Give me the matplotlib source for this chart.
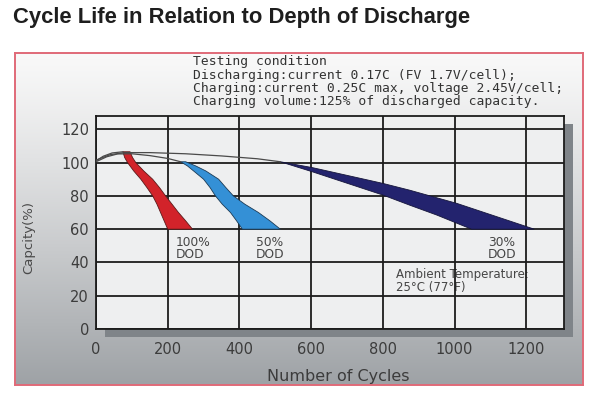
import matplotlib
matplotlib.use("Agg")
import matplotlib.pyplot as plt
import numpy as np
from matplotlib.patches import Rectangle

# ---------------- data ----------------
title = "Cycle Life in Relation to Depth of Discharge"
test_lines = [
    "Testing condition",
    "Discharging:current 0.17C (FV 1.7V/cell);",
    "Charging:current 0.25C max, voltage 2.45V/cell;",
    "Charging volume:125% of discharged capacity.",
]
xticks = [0, 200, 400, 600, 800, 1000, 1200]
yticks = [0, 20, 40, 60, 80, 100, 120]
xlabel = "Number of Cycles"
ylabel = "Capcity(%)"

# 100% DOD band (red): capacity levels with left / right edge cycles
red_cap = [106.5, 103, 100, 95, 90, 85, 80, 75, 70, 65, 60]
red_left = [75, 80, 88, 105, 125, 142, 158, 170, 180, 190, 200]
red_right = [95, 102, 111, 133, 158, 177, 194, 212, 230, 250, 269]

# 50% DOD band (blue)
blue_cap = [100.5, 98, 95, 90, 85, 80, 75, 70, 65, 60]
blue_left = [236, 255, 272, 300, 318, 333, 352, 375, 392, 408]
blue_right = [250, 278, 306, 342, 362, 383, 415, 453, 485, 514]

# 30% DOD band (navy): upper and lower edges
navy_up_x = [514, 603, 800, 875, 1006, 1222]
navy_up_y = [100.5, 97, 87.5, 83.4, 75.5, 60]
navy_lo_x = [514, 603, 800, 875, 950, 1047]
navy_lo_y = [100.5, 94.5, 80.5, 74.4, 68.5, 60]

# thin early-life lines
head_red_x = [0, 20, 45, 75]
head_red_y = [101, 103.8, 105.8, 106.5]
head_blue_x = [0, 30, 60, 100, 150, 200, 236]
head_blue_y = [100.5, 103.5, 105.2, 105.3, 104.2, 102.5, 100.5]
head_navy_x = [0, 40, 80, 150, 250, 350, 450, 514]
head_navy_y = [101.5, 104.8, 106, 106, 105.3, 104, 102.3, 100.5]

labels = [("100%\nDOD", 222, 48.5), ("50%\nDOD", 445, 48.5), ("30%\nDOD", 1093, 48.5)]
ambient = ("Ambient Temperature:\n25°C (77°F)", 836, 28.8)

# ---------------- layout ----------------
W, H = 603, 408
fig = plt.figure(figsize=(W / 100, H / 100), dpi=100)
fig.patch.set_facecolor("white")

def fx(px):
    return px / W

def fy(py):
    return 1 - py / H

# background panel with gradient and red border
bx0, by0, bx1, by1 = 15, 53, 583, 385
bg = fig.add_axes([fx(bx0), fy(by1), fx(bx1 - bx0), (by1 - by0) / H])
t = np.linspace(0, 1, 256)[:, None]
top_c = np.array([0.975, 0.975, 0.975])
bot_c = np.array([0.62, 0.635, 0.65])
grad = top_c + (bot_c - top_c) * (t ** 1.2)
grad = grad[:, None, :]
bg.imshow(grad, aspect="auto", extent=[0, 1, 0, 1], origin="upper")
bg.set_xticks([])
bg.set_yticks([])
for s in bg.spines.values():
    s.set_color("#e06a78")
    s.set_linewidth(1.4)

# plot area
ax0, ay0, ax1, ay1 = 96, 116, 564, 329
shadow = Rectangle((fx(ax0 + 9), fy(ay1 + 8)), fx(ax1 - ax0), (ay1 - ay0) / H,
                   transform=fig.transFigure, facecolor="#7f8489", edgecolor="none", zorder=1)
fig.patches.append(shadow)

ax = fig.add_axes([fx(ax0), fy(ay1), fx(ax1 - ax0), (ay1 - ay0) / H], zorder=2)
ax.set_facecolor("#eeeff0")
ax.set_xlim(0, 1305)
ax.set_ylim(0, 128)
ax.set_xticks(xticks)
ax.set_yticks(yticks)
ax.set_xticklabels([str(v) for v in xticks])
ax.set_yticklabels([str(v) for v in yticks])
ax.tick_params(axis="both", length=0, labelsize=10.5, colors="#3c3c3c")
ax.tick_params(axis="x", pad=9)
ax.tick_params(axis="y", pad=5)
ax.grid(True, color="#1c1c1c", linewidth=1.3, zorder=3)
ax.set_axisbelow(False)
for s in ax.spines.values():
    s.set_color("#1c1c1c")
    s.set_linewidth(1.3)

# bands
ax.fill(red_left + red_right[::-1], red_cap + red_cap[::-1],
        facecolor="#d2232a", edgecolor="#5a1a1a", linewidth=0.6, zorder=4)
ax.fill(blue_left + blue_right[::-1], blue_cap + blue_cap[::-1],
        facecolor="#3490d6", edgecolor="#1b3a55", linewidth=0.6, zorder=4)
ax.fill(navy_lo_x + navy_up_x[::-1], navy_lo_y + navy_up_y[::-1],
        facecolor="#23236e", edgecolor="#15153a", linewidth=0.6, zorder=4)

for hx, hy in [(head_red_x, head_red_y), (head_blue_x, head_blue_y), (head_navy_x, head_navy_y)]:
    ax.plot(hx, hy, color="#4a4a4a", linewidth=0.9, zorder=5)

for txt, x, y in labels:
    ax.text(x, y, txt, fontsize=8.8, color="#454545", ha="left", va="center",
            linespacing=0.95, zorder=2)
ax.text(ambient[1], ambient[2], ambient[0], fontsize=8.5, color="#454545",
        ha="left", va="center", linespacing=0.95, zorder=2)

# axis labels
fig.text(fx(338), fy(377), xlabel, fontsize=11.5, color="#3c3c3c", ha="center", va="center")
fig.text(fx(29), fy(238), ylabel, fontsize=9.5, color="#4a4a4a", ha="center", va="center",
         rotation=90)

# testing condition
for i, line in enumerate(test_lines):
    fig.text(fx(193), fy(62 + 13.2 * i), line, fontsize=9.4, color="#333333",
             family="DejaVu Sans Mono", ha="left", va="center")

# title
fig.text(fx(13), fy(18), title, fontsize=15.8, fontweight="bold", color="#1e1e1e",
         family="Liberation Sans", ha="left", va="center")

fig.savefig("out.png", dpi=100)
